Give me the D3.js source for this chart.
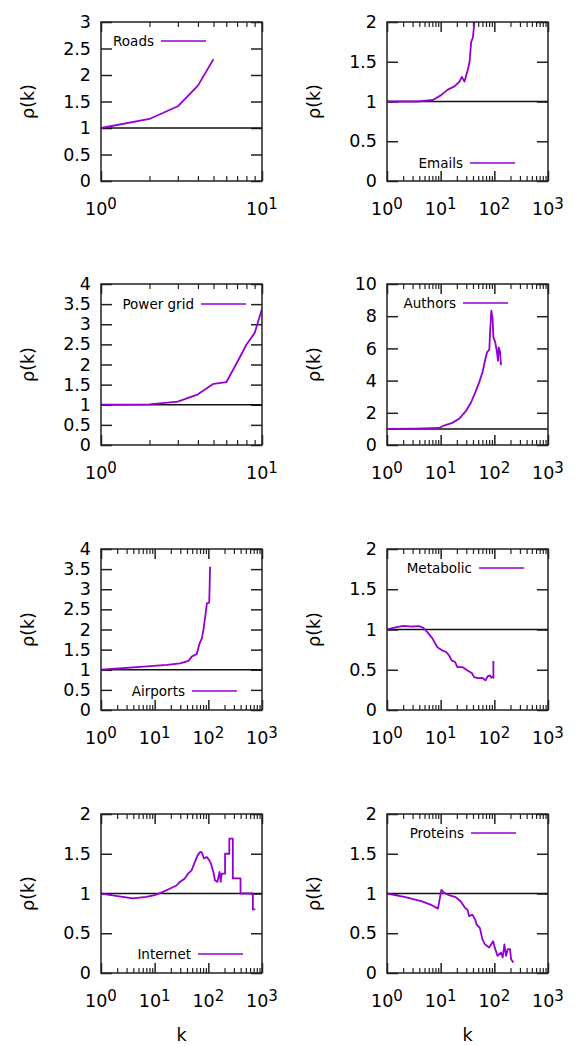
<!DOCTYPE html>
<html>
<head>
<meta charset="utf-8">
<script src="https://cdn.jsdelivr.net/npm/d3@7"></script>
<style>
  body { margin: 0; background: #fff; }
  svg text { font-family: "DejaVu Sans", Verdana, sans-serif; fill: #000; }
</style>
</head>
<body>
<div id="chart"></div>
<script>
// values (k, rho(k)) for each network
const roadsK = [1, 2, 3, 4, 5];
const roadsRho = [1.0, 1.17, 1.41, 1.8, 2.3];

const emailsK = [1, 3.8, 7.2, 10.2, 13.6, 18.1, 22.4, 24.8, 27.8, 29.9, 32.1, 34.6, 37, 39.8, 41.7, 43.3];
const emailsRho = [1.0, 1.0, 1.02, 1.08, 1.15, 1.19, 1.25, 1.31, 1.25, 1.33, 1.40, 1.50, 1.75, 1.80, 1.94, 2.05];

const powerK = [1, 2, 3, 4, 5, 6, 7, 8, 9, 10];
const powerRho = [1.0, 1.01, 1.08, 1.26, 1.52, 1.56, 2.05, 2.49, 2.78, 3.38];

const authorsK = [1, 3.4, 9.3, 11.5, 16.5, 22, 29.4, 36.5, 44, 52, 60, 68, 73, 80.6, 84, 88, 93, 96, 104, 112, 117, 120, 127, 133];
const authorsRho = [1.0, 1.02, 1.06, 1.21, 1.375, 1.625, 2.1, 2.625, 3.25, 3.875, 4.5, 5.33, 5.75, 5.92, 7.2, 8.35, 7.83, 6.7, 6.375, 5.75, 5.23, 6.06, 5.85, 4.96];

const airportsK = [1, 6.2, 16.8, 29.9, 42.7, 49, 61, 68.6, 75.8, 81, 87.6, 94, 104, 108];
const airportsRho = [1.0, 1.077, 1.12, 1.16, 1.22, 1.325, 1.39, 1.656, 1.78, 1.99, 2.32, 2.65, 2.67, 3.56];

const metabolicK = [1, 1.43, 2.05, 2.94, 3.9, 4.66, 5.6, 7, 8.7, 10.7, 12.7, 14.3, 16, 18.6, 20.5, 25.5, 31.6, 38, 42, 49, 60, 68, 75, 83, 88, 94, 96, 96];
const metabolicRho = [1.0, 1.025, 1.046, 1.037, 1.042, 1.025, 0.97, 0.89, 0.78, 0.74, 0.72, 0.68, 0.617, 0.596, 0.533, 0.533, 0.49, 0.46, 0.408, 0.396, 0.4, 0.367, 0.417, 0.43, 0.40, 0.417, 0.40, 0.61];

const internetK = [1, 1.9, 3.9, 7, 10, 14.3, 19, 25.5, 29.4, 36.5, 42, 48.7, 54.6, 63, 70, 75, 83, 93, 104, 112, 124, 133, 148, 162, 170, 178, 205, 205, 246, 246, 286, 286, 398, 398, 676, 676, 750];
const internetRho = [1.0, 0.971, 0.9375, 0.958, 0.98, 1.02, 1.06, 1.10, 1.146, 1.19, 1.25, 1.29, 1.375, 1.48, 1.52, 1.52, 1.44, 1.46, 1.42, 1.375, 1.27, 1.167, 1.146, 1.27, 1.146, 1.25, 1.25, 1.5, 1.5, 1.69, 1.69, 1.19, 1.19, 1.0, 1.0, 0.80, 0.80];

const proteinsK = [1, 2.2, 4.5, 7, 8.9, 10.3, 11.5, 14.3, 19, 23.7, 28.6, 31.6, 34, 39, 44, 46.6, 53.7, 60, 67, 80, 95, 104, 115, 133, 143, 154, 165, 178, 196, 205, 227];
const proteinsRho = [1.0, 0.954, 0.90, 0.85, 0.81, 1.045, 1.01, 0.98, 0.954, 0.90, 0.817, 0.797, 0.714, 0.734, 0.672, 0.61, 0.568, 0.423, 0.36, 0.32, 0.40, 0.30, 0.216, 0.257, 0.195, 0.36, 0.216, 0.30, 0.30, 0.174, 0.133];

const names = ["Roads", "Emails", "Power grid", "Authors", "Airports", "Metabolic", "Internet", "Proteins"];
const ks = [roadsK, emailsK, powerK, authorsK, airportsK, metabolicK, internetK, proteinsK];
const rhos = [roadsRho, emailsRho, powerRho, authorsRho, airportsRho, metabolicRho, internetRho, proteinsRho];
const xMaxExp = [1, 3, 1, 3, 3, 3, 3, 3];
const yMax = [3, 2, 4, 10, 4, 2, 2, 2];
const yStep = [0.5, 0.5, 0.5, 2, 0.5, 0.5, 0.5, 0.5];

// layout
const width = 575, height = 1046;
const colLeft = [101, 387], plotW = 161;
const rowTop = [22, 284, 549, 814], rowBottom = [181, 445, 710, 973];
// legend: right end of sample line and its y, relative to the plot corner
const legendPos = [[105, 19], [128, 141], [145, 20], [121, 19], [136, 142], [137, 19], [142, 140], [129, 19]];
const purple = "#9400d3";

const svg = d3.select("#chart").append("svg").attr("width", width).attr("height", height);

names.forEach((name, i) => {
  const left = colLeft[i % 2], right = left + plotW;
  const top = rowTop[Math.floor(i / 2)], bottom = rowBottom[Math.floor(i / 2)];
  const g = svg.append("g");

  const x = d3.scaleLog().domain([1, Math.pow(10, xMaxExp[i])]).range([left, right]);
  const y = d3.scaleLinear().domain([0, yMax[i]]).range([bottom, top]);
  const yTicks = d3.range(0, yMax[i] + 1e-9, yStep[i]);

  const majors = d3.range(0, xMaxExp[i] + 1).map(e => Math.pow(10, e));
  const minors = [];
  for (let e = 0; e < xMaxExp[i]; e++) for (let m = 2; m <= 9; m++) minors.push(m * Math.pow(10, e));

  // y axis left with labels, right without
  g.append("g").attr("transform", `translate(${left},0)`)
    .call(d3.axisLeft(y).tickValues(yTicks).tickSize(-11).tickPadding(10).tickFormat(d => String(d)))
    .call(a => { a.select(".domain").remove(); a.selectAll("line").attr("stroke", "#222").attr("stroke-width", 1.5);
      a.selectAll("text").attr("font-size", 17.5).attr("font-family", null).attr("fill", "#000"); });
  g.append("g").attr("transform", `translate(${right},0)`)
    .call(d3.axisRight(y).tickValues(yTicks).tickSize(-11).tickFormat(""))
    .call(a => { a.select(".domain").remove(); a.selectAll("line").attr("stroke", "#222").attr("stroke-width", 1.5); });

  // x ticks, bottom and top
  [[bottom, d3.axisBottom], [top, d3.axisTop]].forEach(([yy, ax]) => {
    g.append("g").attr("transform", `translate(0,${yy})`)
      .call(ax(x).tickValues(majors).tickSize(-10).tickFormat(""))
      .call(a => { a.select(".domain").remove(); a.selectAll("line").attr("stroke", "#222").attr("stroke-width", 1.5); });
    g.append("g").attr("transform", `translate(0,${yy})`)
      .call(ax(x).tickValues(minors).tickSize(-5).tickFormat(""))
      .call(a => { a.select(".domain").remove(); a.selectAll("line").attr("stroke", "#222").attr("stroke-width", 1.2); });
  });

  // x tick labels 10^n
  majors.forEach((v, e) => {
    const t = g.append("text").attr("x", x(v)).attr("y", bottom + 34)
      .attr("text-anchor", "middle").attr("font-size", 17.5);
    t.append("tspan").text("10");
    t.append("tspan").attr("dy", -6).attr("font-size", 15).text(e);
  });

  // reference line rho = 1
  g.append("line").attr("x1", left).attr("x2", right).attr("y1", y(1)).attr("y2", y(1))
    .attr("stroke", "#111").attr("stroke-width", 1.5);

  // curve, clipped to the frame
  g.append("clipPath").attr("id", "clip" + i).append("rect")
    .attr("x", left).attr("y", top).attr("width", plotW).attr("height", bottom - top);
  const pts = ks[i].map((k, j) => [k, rhos[i][j]]);
  g.append("path").datum(pts).attr("clip-path", `url(#clip${i})`)
    .attr("fill", "none").attr("stroke", purple).attr("stroke-width", 1.8).attr("stroke-linejoin", "round")
    .attr("d", d3.line().x(d => x(d[0])).y(d => y(d[1])));

  // frame
  g.append("rect").attr("x", left).attr("y", top).attr("width", plotW).attr("height", bottom - top)
    .attr("fill", "none").attr("stroke", "#222").attr("stroke-width", 1.5);

  // legend
  const lx = left + legendPos[i][0], ly = top + legendPos[i][1];
  g.append("line").attr("x1", lx - 45).attr("x2", lx).attr("y1", ly).attr("y2", ly)
    .attr("stroke", purple).attr("stroke-width", 1.7);
  g.append("text").attr("x", lx - 52).attr("y", ly).attr("dy", "0.35em")
    .attr("text-anchor", "end").attr("font-size", 13.5).text(name);

  // y axis title
  g.append("text").attr("transform", `translate(${left - 73},${(top + bottom) / 2}) rotate(-90)`)
    .attr("text-anchor", "middle").attr("dy", "0.35em").attr("font-size", 17.5).text("ρ(k)");
});

// x axis titles under the bottom row
colLeft.forEach(l => {
  svg.append("text").attr("x", l + plotW / 2).attr("y", 1041)
    .attr("text-anchor", "middle").attr("font-size", 17.5).text("k");
});
</script>
</body>
</html>
